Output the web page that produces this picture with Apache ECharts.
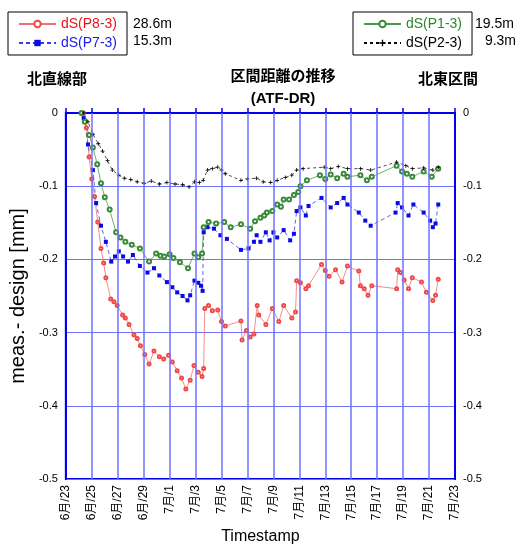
<!DOCTYPE html>
<html><head><meta charset="utf-8">
<script src="https://cdn.jsdelivr.net/npm/echarts@6/dist/echarts.min.js"></script>
<style>html,body{margin:0;padding:0;background:#fff}#c{width:520px;height:550px}</style>
</head><body><div id="c"></div>
<script>
const xTickLabels = ['6月/23','6月/25','6月/27','6月/29','7月/1','7月/3','7月/5','7月/7','7月/9','7月/11','7月/13','7月/15','7月/17','7月/19','7月/21','7月/23'];
const yTicks = [0, -0.1, -0.2, -0.3, -0.4, -0.5];
const seriesNames = ['dS(P8-3)', 'dS(P7-3)', 'dS(P1-3)', 'dS(P2-3)'];
const seriesDist = ['28.6m', '15.3m', '19.5m', '9.3m'];

const dsP8_3 = [['6/24 09',0],['6/24 14',-0.020],['6/24 19',-0.060],['6/25 00',-0.090],['6/25 05',-0.114],['6/25 11',-0.149],['6/25 17',-0.185],['6/25 22',-0.205],['6/26 02',-0.225],['6/26 11',-0.254],['6/26 17',-0.258],['6/26 23',-0.263],['6/27 09',-0.276],['6/27 14',-0.280],['6/27 21',-0.289],['6/28 06',-0.303],['6/28 12',-0.308],['6/28 18',-0.318],['6/29 02',-0.330],['6/29 10',-0.343],['6/29 19',-0.325],['6/30 05',-0.333],['6/30 13',-0.336],['6/30 22',-0.331],['7/1 05',-0.340],['7/1 14',-0.352],['7/1 22',-0.362],['7/2 06',-0.377],['7/2 14',-0.365],['7/2 21',-0.345],['7/3 05',-0.354],['7/3 12',-0.360],['7/3 15',-0.349],['7/3 17',-0.267],['7/4 00',-0.263],['7/4 07',-0.270],['7/4 17',-0.269],['7/5 00',-0.285],['7/5 07',-0.291],['7/6 12',-0.284],['7/6 14',-0.310],['7/6 22',-0.297],['7/7 05',-0.306],['7/7 12',-0.302],['7/7 18',-0.263],['7/7 21',-0.276],['7/8 10',-0.289],['7/8 22',-0.267],['7/9 10',-0.285],['7/9 19',-0.263],['7/10 10',-0.280],['7/10 17',-0.272],['7/10 19',-0.229],['7/11 02',-0.232],['7/11 12',-0.240],['7/11 17',-0.236],['7/12 17',-0.207],['7/13 00',-0.215],['7/13 07',-0.223],['7/13 19',-0.214],['7/14 07',-0.231],['7/14 17',-0.209],['7/15 14',-0.216],['7/15 17',-0.236],['7/16 00',-0.240],['7/16 07',-0.249],['7/16 14',-0.236],['7/18 12',-0.240],['7/18 14',-0.214],['7/18 19',-0.218],['7/19 02',-0.228],['7/19 10',-0.240],['7/19 17',-0.225],['7/20 10',-0.231],['7/20 19',-0.245],['7/21 07',-0.256],['7/21 12',-0.249],['7/21 17',-0.227]];

const dsP7_3 = [['6/24 05',0],['6/24 09',-0.007],['6/24 17',-0.043],['6/25 02',-0.078],['6/25 08',-0.123],['6/25 17',-0.154],['6/26 02',-0.176],['6/26 12',-0.203],['6/26 19',-0.196],['6/27 02',-0.189],['6/27 10',-0.196],['6/27 19',-0.203],['6/28 04',-0.194],['6/28 17',-0.209],['6/29 07',-0.218],['6/29 19',-0.212],['6/30 05',-0.222],['6/30 19',-0.231],['7/1 05',-0.238],['7/1 14',-0.245],['7/2 00',-0.250],['7/2 09',-0.256],['7/2 14',-0.249],['7/2 22',-0.229],['7/3 05',-0.232],['7/3 10',-0.236],['7/3 13',-0.243],['7/3 15',-0.163],['7/3 22',-0.156],['7/4 10',-0.158],['7/4 22',-0.167],['7/5 10',-0.172],['7/6 12',-0.187],['7/7 02',-0.185],['7/7 12',-0.176],['7/7 17',-0.167],['7/8 00',-0.176],['7/8 10',-0.163],['7/8 17',-0.174],['7/9 00',-0.163],['7/9 07',-0.170],['7/9 19',-0.160],['7/10 07',-0.174],['7/10 14',-0.165],['7/10 19',-0.134],['7/11 02',-0.129],['7/11 12',-0.140],['7/11 17',-0.127],['7/12 17',-0.116],['7/13 10',-0.129],['7/13 22',-0.123],['7/14 10',-0.116],['7/14 17',-0.125],['7/15 14',-0.136],['7/16 02',-0.147],['7/16 12',-0.154],['7/18 10',-0.136],['7/18 14',-0.123],['7/18 22',-0.129],['7/19 10',-0.140],['7/19 19',-0.125],['7/20 14',-0.136],['7/21 02',-0.147],['7/21 07',-0.156],['7/21 12',-0.151],['7/21 17',-0.125]];

const dsP1_3 = [['6/24 05',0],['6/24 11',-0.012],['6/24 19',-0.030],['6/25 02',-0.047],['6/25 10',-0.070],['6/25 17',-0.096],['6/26 00',-0.115],['6/26 09',-0.132],['6/26 21',-0.163],['6/27 05',-0.170],['6/27 14',-0.176],['6/28 02',-0.180],['6/28 17',-0.185],['6/29 10',-0.203],['6/29 23',-0.192],['6/30 07',-0.195],['6/30 14',-0.196],['7/1 00',-0.193],['7/1 07',-0.198],['7/1 19',-0.204],['7/2 10',-0.212],['7/2 22',-0.192],['7/3 05',-0.197],['7/3 12',-0.192],['7/3 15',-0.156],['7/4 00',-0.149],['7/4 14',-0.151],['7/5 05',-0.149],['7/5 17',-0.156],['7/6 12',-0.152],['7/7 05',-0.158],['7/7 14',-0.148],['7/8 00',-0.143],['7/8 07',-0.140],['7/8 12',-0.136],['7/8 22',-0.134],['7/9 07',-0.125],['7/9 14',-0.128],['7/9 19',-0.118],['7/10 05',-0.118],['7/10 14',-0.112],['7/10 22',-0.108],['7/11 02',-0.100],['7/11 14',-0.092],['7/12 14',-0.085],['7/13 00',-0.090],['7/13 10',-0.084],['7/13 22',-0.089],['7/14 10',-0.083],['7/14 17',-0.087],['7/15 17',-0.085],['7/16 05',-0.092],['7/16 14',-0.087],['7/18 12',-0.072],['7/18 22',-0.080],['7/19 07',-0.083],['7/19 17',-0.087],['7/20 14',-0.080],['7/21 05',-0.087],['7/21 17',-0.076]];

const dsP2_3 = [['6/24 09',0],['6/24 17',-0.012],['6/25 02',-0.029],['6/25 12',-0.042],['6/25 20',-0.052],['6/26 05',-0.065],['6/26 14',-0.078],['6/27 02',-0.085],['6/27 12',-0.089],['6/28 00',-0.091],['6/28 12',-0.094],['6/29 01',-0.096],['6/29 14',-0.093],['6/30 05',-0.097],['6/30 19',-0.095],['7/1 10',-0.097],['7/2 00',-0.098],['7/2 12',-0.101],['7/2 22',-0.094],['7/3 07',-0.095],['7/3 14',-0.092],['7/3 22',-0.078],['7/4 07',-0.076],['7/4 17',-0.074],['7/5 00',-0.078],['7/5 07',-0.083],['7/6 12',-0.092],['7/7 00',-0.090],['7/7 17',-0.089],['7/8 05',-0.094],['7/8 19',-0.095],['7/9 07',-0.092],['7/9 22',-0.088],['7/10 10',-0.085],['7/10 19',-0.078],['7/11 07',-0.076],['7/12 22',-0.074],['7/13 10',-0.076],['7/14 00',-0.073],['7/14 17',-0.076],['7/15 17',-0.076],['7/16 12',-0.078],['7/18 12',-0.067],['7/19 05',-0.072],['7/19 17',-0.076],['7/20 14',-0.075],['7/21 07',-0.078],['7/21 17',-0.074]];

const T0 = Date.UTC(2021, 5, 23);
function toDays(s) {
  const [md, h] = s.split(' ');
  const [m, d] = md.split('/').map(Number);
  return (Date.UTC(2021, m - 1, d, Number(h)) - T0) / 864e5;
}
const conv = arr => arr.map(([t, v]) => [toDays(t), v]);

const FONT = '"Liberation Sans", "Noto Sans CJK JP", sans-serif';
const BLUE = '#0000ee';
const GRID = '#7070ff';
const chart = echarts.init(document.getElementById('c'), null, {renderer: 'canvas'});

// vertical grid lines at each tick position (inner ticks only)
const vGrid = xTickLabels.map((_, i) => ({xAxis: i * 2})).slice(1, -1);

const yAxisBase = {
  type: 'value', min: yTicks[yTicks.length - 1], max: yTicks[0], interval: 0.1,
  axisLine: {show: true, lineStyle: {color: BLUE, width: 2}},
  axisTick: {show: false},
  axisLabel: {color: '#000', fontSize: 11, fontFamily: FONT, margin: 8,
    formatter: v => String(Math.round(v * 10) / 10)}
};

chart.setOption({
  animation: false,
  textStyle: {fontFamily: FONT},
  grid: {left: 65, right: 65, top: 113, bottom: 62, show: true, borderColor: BLUE, borderWidth: 2},
  title: {
    text: '区間距離の推移\n(ATF-DR)', left: 278, top: 61, textAlign: 'center',
    textStyle: {fontSize: 15, fontWeight: 'bold', color: '#000', lineHeight: 22, fontFamily: FONT}
  },
  legend: [
    {data: [{name: seriesNames[0], textStyle: {color: '#e8141c'}}, {name: seriesNames[1], textStyle: {color: '#1a1ae6'}}],
     orient: 'vertical', left: 8, top: 12, itemWidth: 37, itemHeight: 8, itemGap: 5,
     padding: [5, 10, 5, 10], borderColor: '#000', borderWidth: 1,
     textStyle: {fontSize: 14, fontFamily: FONT}},
    {data: [{name: seriesNames[2], textStyle: {color: '#2a8a2a'}}, {name: seriesNames[3], textStyle: {color: '#000'}}],
     orient: 'vertical', left: 353, top: 12, itemWidth: 37, itemHeight: 8, itemGap: 5,
     padding: [5, 10, 5, 10], borderColor: '#000', borderWidth: 1,
     textStyle: {fontSize: 14, fontFamily: FONT}}
  ],
  graphic: [
    {type: 'text', left: 133, top: 17, style: {text: seriesDist[0], fontSize: 14, fontFamily: FONT, fill: '#000'}},
    {type: 'text', left: 133, top: 34, style: {text: seriesDist[1], fontSize: 14, fontFamily: FONT, fill: '#000'}},
    {type: 'text', left: 475, top: 17, style: {text: seriesDist[2], fontSize: 14, fontFamily: FONT, fill: '#000'}},
    {type: 'text', right: 4, top: 34, style: {text: seriesDist[3], fontSize: 14, fontFamily: FONT, fill: '#000'}},
    {type: 'text', left: 27, top: 72, style: {text: '北直線部', fontSize: 15, fontWeight: 'bold', fontFamily: FONT, fill: '#000'}},
    {type: 'text', left: 418, top: 72, style: {text: '北東区間', fontSize: 15, fontWeight: 'bold', fontFamily: FONT, fill: '#000'}}
  ],
  xAxis: {
    type: 'value', min: 0, max: 30, interval: 2,
    name: 'Timestamp', nameLocation: 'middle', nameGap: 50,
    nameTextStyle: {fontSize: 16, color: '#000', fontFamily: FONT},
    axisLine: {show: true, lineStyle: {color: BLUE, width: 2}},
    axisTick: {show: true, inside: true, length: 5, lineStyle: {color: BLUE, width: 1.5}},
    axisLabel: {rotate: 90, fontSize: 12, color: '#000', margin: 6, fontFamily: FONT,
      formatter: v => xTickLabels[Math.round(v / 2)]},
    splitLine: {show: false}
  },
  yAxis: [
    Object.assign({}, yAxisBase, {
      position: 'left', name: 'meas.- design [mm]', nameLocation: 'middle', nameGap: 30,
      nameTextStyle: {fontSize: 20, color: '#000', fontFamily: FONT},
      splitLine: {show: true, lineStyle: {color: [GRID, GRID], type: 'solid', width: 1}}
    }),
    Object.assign({}, yAxisBase, {position: 'right', splitLine: {show: false}})
  ],
  series: [
    {name: 'vgrid', type: 'line', data: [], silent: true, z: 1,
     markLine: {silent: true, symbol: 'none', label: {show: false}, animation: false,
       lineStyle: {color: GRID, type: 'solid', width: 1.5}, data: vGrid}},
    {name: seriesNames[0], type: 'line', data: conv(dsP8_3), symbol: 'emptyCircle', symbolSize: 3,
     itemStyle: {color: '#f04848', borderWidth: 0.7}, lineStyle: {color: '#f07070', width: 0.8}},
    {name: seriesNames[1], type: 'line', data: conv(dsP7_3), symbol: 'rect', symbolSize: 4,
     itemStyle: {color: '#0a0ae6'}, lineStyle: {color: '#3a3af0', width: 0.8, type: [4, 3]}},
    {name: seriesNames[2], type: 'line', data: conv(dsP1_3), symbol: 'emptyCircle', symbolSize: 4,
     itemStyle: {color: '#3a8a3a', borderWidth: 0.7}, lineStyle: {color: '#4a9a4a', width: 0.8}},
    {name: seriesNames[3], type: 'line', data: conv(dsP2_3), symbol: 'path://M4,0H6V4H10V6H6V10H4V6H0V4H4Z', symbolSize: 4,
     itemStyle: {color: '#000'}, lineStyle: {color: '#000', width: 0.7, type: [3, 3]}}
  ]
});
</script></body></html>
